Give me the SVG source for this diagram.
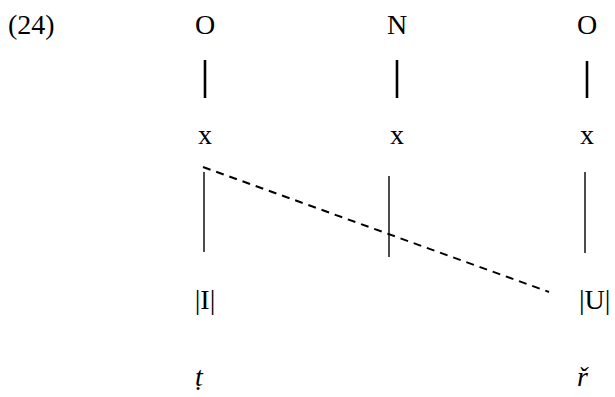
<svg xmlns="http://www.w3.org/2000/svg" width="615" height="397" viewBox="0 0 615 397">
<style>
text{font-family:"Liberation Serif","Times New Roman",serif;font-size:28px;fill:#000}
.c{text-anchor:middle}
.i{font-style:italic}
.bar{stroke:#000;stroke-width:2.6}
.ln{stroke:#000;stroke-width:1.4}
.dash{stroke:#000;stroke-width:2;stroke-dasharray:8,6;fill:none}
</style>
<rect width="615" height="397" fill="#fff"/>
<text x="8" y="34">(24)</text>
<g id="O1"><text class="c" x="205" y="34">O</text><line class="bar" x1="205" y1="60" x2="205" y2="98"/><text class="c" x="205" y="144">x</text></g>
<g id="N"><text class="c" x="397" y="34">N</text><line class="bar" x1="397" y1="60" x2="397" y2="98"/><text class="c" x="397" y="144">x</text></g>
<g id="O2"><text class="c" x="587" y="34">O</text><line class="bar" x1="587" y1="61" x2="587" y2="98"/><text class="c" x="587" y="144">x</text></g>
<g id="I"><text class="c" x="205" y="309">|I|</text><text class="c i" x="199" y="386">ṭ</text></g>
<g id="U"><text x="579" y="309">|U|</text><text class="i" x="577" y="386">ř</text></g>
<g id="connectors">
<line class="ln" x1="204" y1="172" x2="204" y2="252"/>
<line class="ln" x1="389" y1="176" x2="389" y2="257"/>
<line class="ln" x1="585" y1="172" x2="585" y2="253"/>
<line class="dash" x1="203" y1="167" x2="549" y2="292"/>
</g>
</svg>
